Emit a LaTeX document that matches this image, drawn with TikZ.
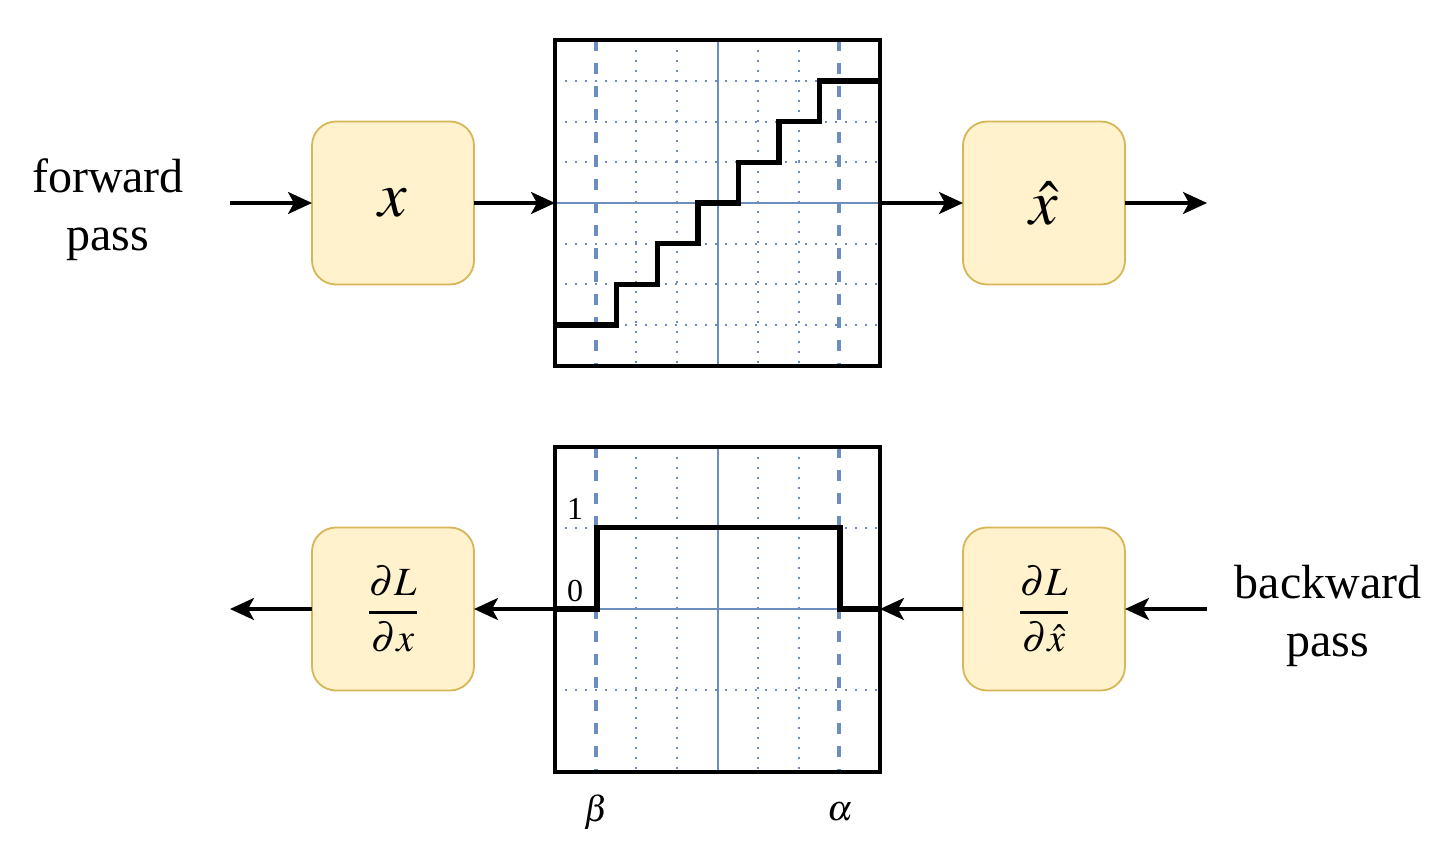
\documentclass[tikz,border=0pt]{standalone}
\usepackage{mathptmx}
\usepackage{fontspec}
\setmainfont{Liberation Serif}
\usetikzlibrary{arrows.meta}
\definecolor{boxfill}{HTML}{FFF2CC}
\definecolor{boxline}{HTML}{D6B656}
\definecolor{gridblue}{HTML}{6C8EBF}
\begin{document}
\begin{tikzpicture}[x=0.5pt,y=-0.5pt,
  qbox/.style={draw=boxline, fill=boxfill, line width=0.9pt, rounded corners=12pt,
    minimum width=81pt, minimum height=81.5pt, inner sep=0pt, outer sep=0pt},
  plotarea/.style={minimum size=162.5pt, inner sep=0pt, outer sep=0pt},
  plotframe/.style={draw=black, line width=2pt},
  flow/.style={-{Stealth[length=12pt,width=11pt,inset=3pt]}, line width=1.6pt},
  gdot/.style={gridblue, line width=1pt, dash pattern=on 1pt off 4pt},
  gdash/.style={gridblue, line width=2pt, dash pattern=on 5.5pt off 6pt},
  gsolid/.style={gridblue, line width=1pt},
  curve/.style={black, line width=2.7pt},
  passlabel/.style={font=\fontsize{24}{29}\selectfont, align=center, inner sep=0pt},
  bigmath/.style={font=\fontsize{32}{38}\selectfont},
  fracmath/.style={font=\fontsize{20}{24}\selectfont},
  ticklabel/.style={font=\fontsize{16}{19}\selectfont, inner sep=0pt},
  greeklabel/.style={font=\fontsize{18}{22}\selectfont, inner sep=0pt}
]
\useasboundingbox (0,0) rectangle (1456,856);

% ---- nodes ----
\node[passlabel] (fwd) at (108,210) {forward\\pass};
\node[passlabel] (bwd) at (1328,616) {backward\\pass};

\node[qbox, bigmath] (nx) at (393,203) {$x$};
\node[plotarea] (plotF) at (717.5,203) {};
\node[qbox, bigmath] (nxh) at (1044,203) {$\hat{x}$};

\node[qbox, fracmath] (ndx) at (393,609) {$\displaystyle{\partial L \above 1.3pt \partial x}$};
\node[plotarea] (plotB) at (717.5,609) {};
\node[qbox, fracmath] (ndxh) at (1044,609) {$\displaystyle{\partial L \above 1.3pt \partial \hat{x}}$};

\coordinate (inF) at (230,203);
\coordinate (outF) at (1207,203);
\coordinate (inB) at (1207,609);
\coordinate (outB) at (230,609);

% ---- top plot (forward) ----
\foreach \k in {-2,-1,1,2} {
  \draw[gdot] (717.5+\k*40.625,40.5) -- (717.5+\k*40.625,365.5);
}
\foreach \k in {-3,-2,-1,1,2,3} {
  \draw[gdot] (555,203+\k*40.625) -- (880,203+\k*40.625);
}
\draw[gdash] (595.6,40.5) -- (595.6,365.5);
\draw[gdash] (839.4,40.5) -- (839.4,365.5);
\draw[gsolid] (718,40.5) -- (718,365.5);
\draw[gsolid] (555,203) -- (880,203);
\draw[curve] (555,324.9) -- (616.6,324.9) -- (616.6,284.25) -- (657.2,284.25)
  -- (657.2,243.6) -- (697.8,243.6) -- (697.8,203) -- (738.3,203)
  -- (738.3,162.4) -- (778.9,162.4) -- (778.9,121.75) -- (819.5,121.75)
  -- (819.5,81.1) -- (880,81.1);
\draw[plotframe] (plotF.south west) rectangle (plotF.north east);

% ---- bottom plot (backward) ----
\foreach \k in {-2,-1,1,2} {
  \draw[gdot] (717.5+\k*40.625,446.5) -- (717.5+\k*40.625,771.5);
}
\foreach \k in {-2,2} {
  \draw[gdot] (555,609+\k*40.625) -- (880,609+\k*40.625);
}
\draw[gdash] (595.6,446.5) -- (595.6,771.5);
\draw[gdash] (839.4,446.5) -- (839.4,771.5);
\draw[gsolid] (718,446.5) -- (718,771.5);
\draw[gsolid] (555,609) -- (880,609);
\draw[curve] (555,609) -- (597,609) -- (597,527.75) -- (840,527.75)
  -- (840,609) -- (880,609);
\draw[plotframe] (plotB.south west) rectangle (plotB.north east);

\node[ticklabel] (one) at (575,509) {1};
\node[ticklabel] (zero) at (575,591) {0};
\node[greeklabel] (beta) at (596,812) {$\beta$};
\node[greeklabel] (alpha) at (840,812) {$\alpha$};

% ---- connectors ----
\draw[flow] (inF) -- (nx);
\draw[flow] (nx) -- (plotF);
\draw[flow] (plotF) -- (nxh);
\draw[flow] (nxh) -- (outF);

\draw[flow] (inB) -- (ndxh);
\draw[flow] (ndxh) -- (plotB);
\draw[flow] (plotB) -- (ndx);
\draw[flow] (ndx) -- (outB);
\end{tikzpicture}
\end{document}
